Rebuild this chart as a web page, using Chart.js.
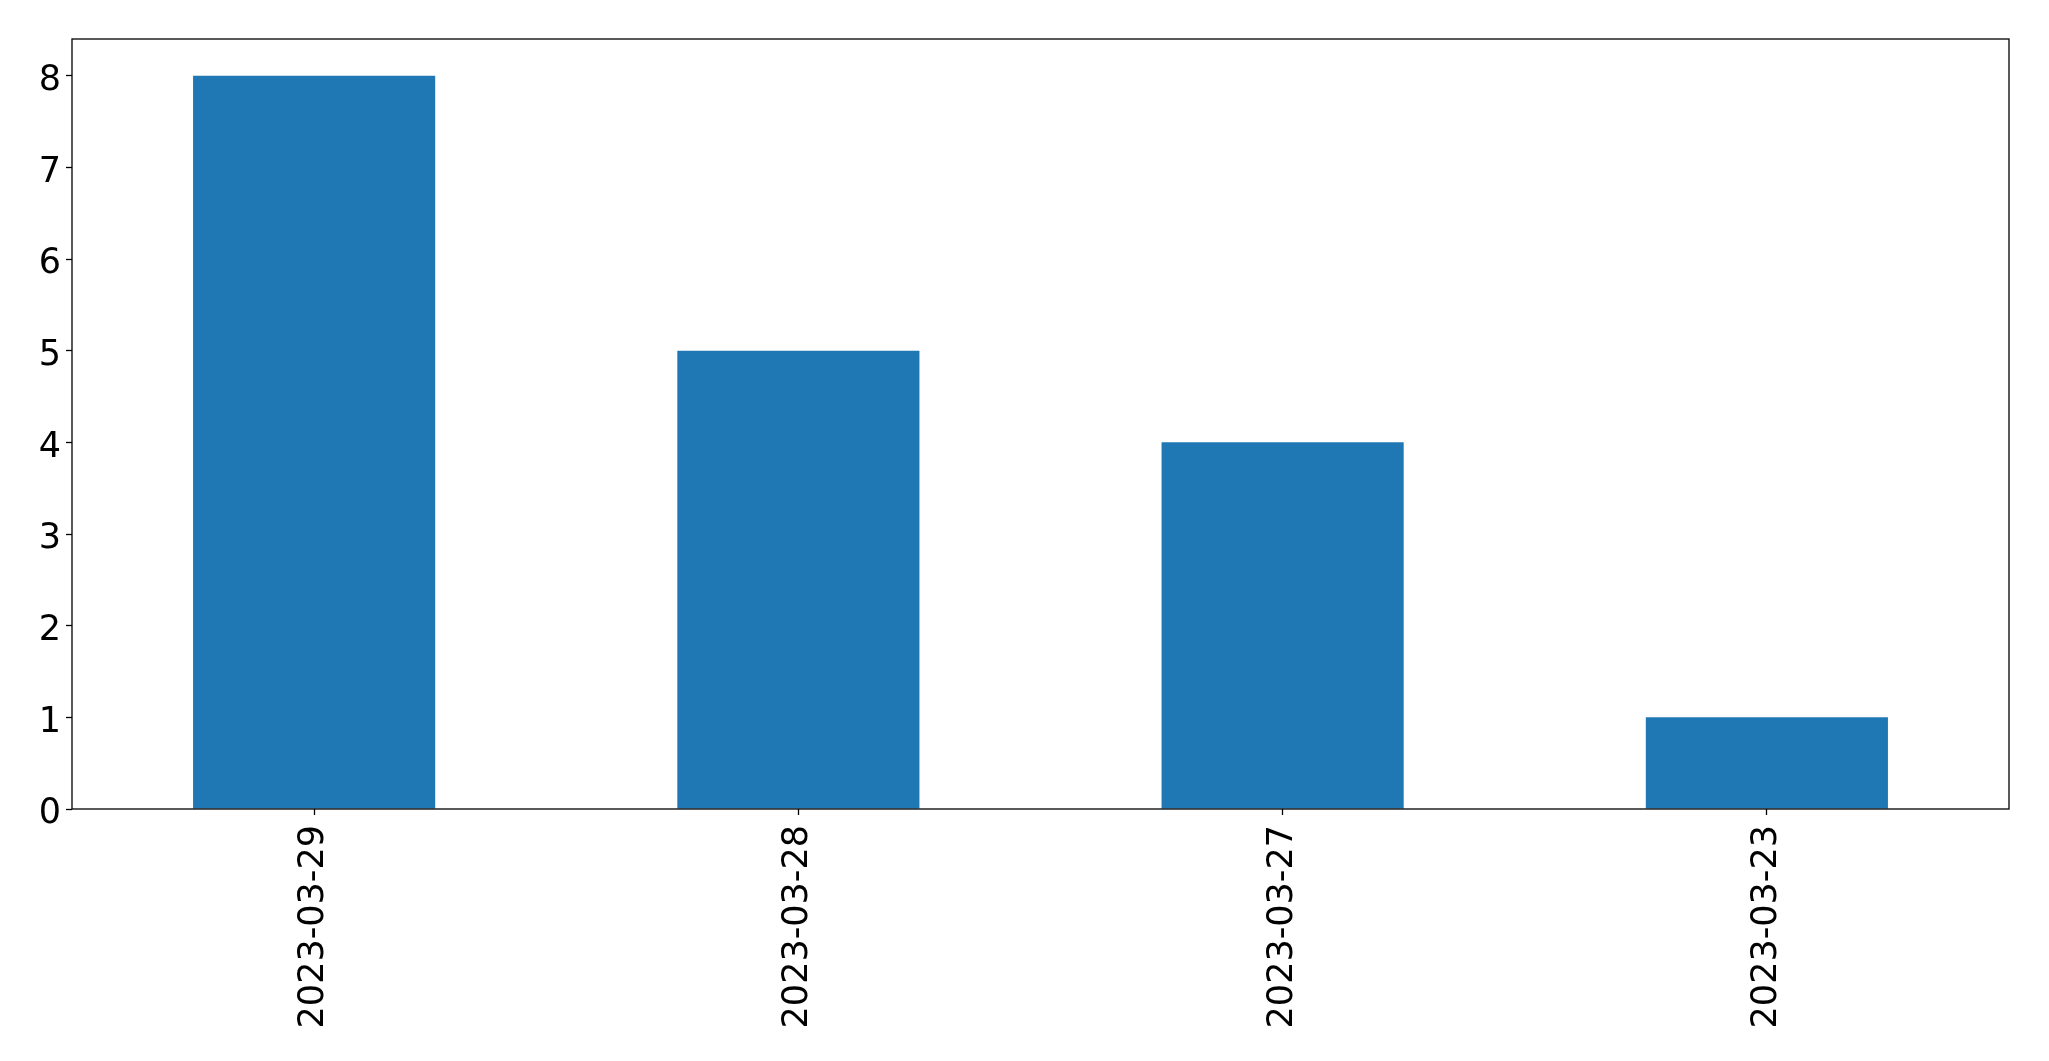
<!DOCTYPE html>
<html>
<head>
<meta charset="utf-8">
<script src="https://cdn.jsdelivr.net/npm/chart.js@4"></script>
<style>
    body { margin: 0; background: #fff; }
    #wrap { width: 2049px; height: 1061px; }
</style>
</head>
<body>
<div id="wrap"><canvas id="bar-chart"></canvas></div>
<script>
// Data
const dates = ['2023-03-29', '2023-03-28', '2023-03-27', '2023-03-23'];
const counts = [8, 5, 4, 1];
const yTicks = [0, 1, 2, 3, 4, 5, 6, 7, 8];

const FONT = { family: "'DejaVu Sans', sans-serif", size: 35 };

// Draw the full black frame around the plot area (like matplotlib spines)
const frame = {
    id: 'frame',
    afterDraw(chart) {
        const { ctx, chartArea: a } = chart;
        ctx.save();
        ctx.strokeStyle = '#000';
        ctx.lineWidth = 1.3;
        ctx.strokeRect(a.left, a.top, a.right - a.left, a.bottom - a.top);
        ctx.restore();
    }
};

const ctx = document.getElementById('bar-chart').getContext('2d');

new Chart(ctx, {
    type: 'bar',
    data: {
        labels: dates,
        datasets: [{
            data: counts,
            backgroundColor: '#1f77b4',
            borderWidth: 0,
            barPercentage: 0.5,
            categoryPercentage: 1.0
        }]
    },
    options: {
        responsive: true,
        maintainAspectRatio: false,
        animation: false,
        layout: { padding: { left: 0, top: 39, right: 40, bottom: 0 } },
        plugins: {
            legend: { display: false },
            tooltip: { enabled: false }
        },
        scales: {
            x: {
                offset: true,
                border: { display: false },
                grid: {
                    offset: false,
                    drawOnChartArea: false,
                    drawTicks: true,
                    tickLength: 6,
                    tickWidth: 1.3,
                    tickColor: '#000'
                },
                ticks: {
                    color: '#000',
                    font: FONT,
                    minRotation: 90,
                    maxRotation: 90,
                    padding: 10,
                    autoSkip: false
                },
                afterFit(scale) { scale.height = 252; }
            },
            y: {
                min: 0,
                max: 8.4,
                border: { display: false },
                grid: {
                    drawOnChartArea: false,
                    drawTicks: true,
                    tickLength: 6,
                    tickWidth: 1.3,
                    tickColor: '#000'
                },
                ticks: {
                    color: '#000',
                    // small line height + empty first line nudges digits down to sit centred on the tick
                    font: { ...FONT, lineHeight: 0.3 },
                    padding: 5,
                    includeBounds: false,
                    callback: (v) => ['', String(v)]
                },
                afterBuildTicks(scale) {
                    scale.ticks = yTicks.map(v => ({ value: v }));
                },
                afterFit(scale) { scale.width = 72; }
            }
        }
    },
    plugins: [frame]
});
</script>
</body>
</html>
